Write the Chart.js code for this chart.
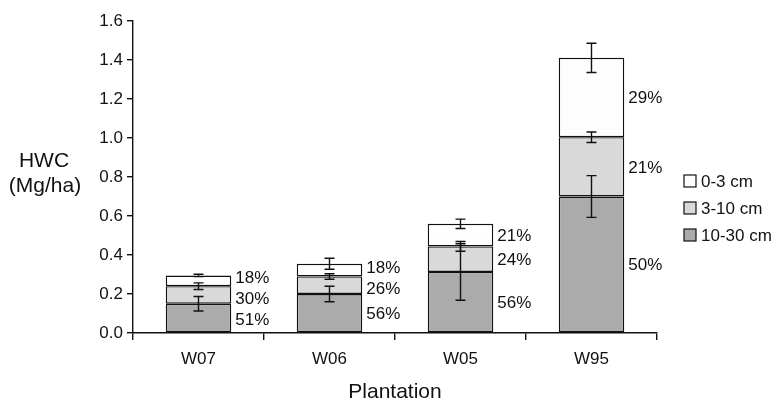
<!DOCTYPE html>
<html>
<head>
<meta charset="utf-8">
<script src="https://cdn.jsdelivr.net/npm/chart.js@4.4.1/dist/chart.umd.min.js"></script>
<style>
  html, body { margin:0; padding:0; background:#fff; }
  canvas { display:block; }
</style>
</head>
<body>
<canvas id="hwc" width="782" height="403"></canvas>
<script>
// data (Mg/ha, stacked bottom -> top)
const categories = ['W07', 'W06', 'W05', 'W95'];
const depthLabels = ['10-30 cm', '3-10 cm', '0-3 cm'];
const deepVals = [0.150, 0.200, 0.313, 0.700];   // 10-30 cm
const midVals  = [0.090, 0.090, 0.131, 0.304];   // 3-10 cm
const topVals  = [0.055, 0.065, 0.116, 0.407];   // 0-3 cm
const deepErr = [0.037, 0.040, 0.145, 0.107];
const midErr  = [0.017, 0.014, 0.025, 0.027];
const topErr  = [0.006, 0.028, 0.024, 0.075];
const deepPct = ['51%', '56%', '56%', '50%'];
const midPct  = ['30%', '26%', '24%', '21%'];
const topPct  = ['18%', '18%', '21%', '29%'];
const yTicks = [0, 0.2, 0.4, 0.6, 0.8, 1.0, 1.2, 1.4, 1.6];

const INK = '#111';
const FONT = "'Liberation Sans', Arial, Helvetica, sans-serif";
Chart.defaults.font.family = FONT;
Chart.defaults.color = INK;

const errs = [deepErr, midErr, topErr];
const pcts = [deepPct, midPct, topPct];

// error bars, percent labels, legend and horizontal y title
const overlay = {
  id: 'overlay',
  afterDatasetsDraw(chart) {
    const ctx = chart.ctx;
    const y = chart.scales.y;
    const n = chart.data.datasets.length;
    ctx.save();
    ctx.strokeStyle = INK;
    ctx.lineWidth = 1.4;
    // error bars at the top of each segment
    for (let di = 0; di < n; di++) {
      const meta = chart.getDatasetMeta(di);
      meta.data.forEach((bar, i) => {
        let cum = 0;
        for (let k = 0; k <= di; k++) cum += chart.data.datasets[k].data[i];
        const e = errs[di][i];
        const yHi = y.getPixelForValue(cum + e);
        const yLo = y.getPixelForValue(cum - e);
        const x = bar.x, cap = 5;
        ctx.beginPath();
        ctx.moveTo(x, yHi); ctx.lineTo(x, yLo);
        ctx.moveTo(x - cap, yHi); ctx.lineTo(x + cap, yHi);
        ctx.moveTo(x - cap, yLo); ctx.lineTo(x + cap, yLo);
        ctx.stroke();
      });
    }
    // percentage labels to the right of each bar
    ctx.fillStyle = INK;
    ctx.font = '17px ' + FONT;
    ctx.textAlign = 'left';
    ctx.textBaseline = 'middle';
    categories.forEach((c, i) => {
      const items = [];
      for (let di = n - 1; di >= 0; di--) {
        const bar = chart.getDatasetMeta(di).data[i];
        items.push({ y: (bar.y + bar.base) / 2, text: pcts[di][i], x: bar.x + bar.width / 2 + 4 });
      }
      // spread labels that would overlap
      const gap = 21;
      for (let it = 0; it < 30; it++) {
        for (let k = 0; k < items.length - 1; k++) {
          const d = items[k + 1].y - items[k].y;
          if (d < gap) { const s = (gap - d) / 2; items[k].y -= s; items[k + 1].y += s; }
        }
      }
      items.forEach(l => ctx.fillText(l.text, l.x, l.y + 1));
    });
    // legend, top layer first
    const lx = chart.chartArea.right + 27;
    const rows = [181, 208, 235];
    ctx.font = '17px ' + FONT;
    for (let r = 0; r < n; r++) {
      const ds = chart.data.datasets[n - 1 - r];
      ctx.fillStyle = ds.backgroundColor;
      ctx.fillRect(lx, rows[r] - 6, 12, 12);
      ctx.lineWidth = 1.2;
      ctx.strokeRect(lx, rows[r] - 6, 12, 12);
      ctx.fillStyle = INK;
      ctx.fillText(ds.label, lx + 17, rows[r] + 1);
    }
    // y axis title, horizontal on two lines
    ctx.font = '21px ' + FONT;
    ctx.textAlign = 'center';
    ctx.fillText('HWC', 44, 161);
    ctx.fillText('(Mg/ha)', 45, 186);
    ctx.restore();
  }
};

new Chart(document.getElementById('hwc'), {
  type: 'bar',
  data: {
    labels: categories,
    datasets: [
      { label: depthLabels[0], data: deepVals, backgroundColor: '#ababab' },
      { label: depthLabels[1], data: midVals,  backgroundColor: '#d9d9d9' },
      { label: depthLabels[2], data: topVals,  backgroundColor: '#fdfdfd' }
    ].map(d => Object.assign(d, {
      borderColor: INK, borderWidth: 1.4, borderSkipped: false,
      categoryPercentage: 1.0, barPercentage: 0.5
    }))
  },
  options: {
    responsive: false,
    animation: false,
    devicePixelRatio: 1,
    layout: { padding: { left: 0, right: 125, top: 21, bottom: 0 } },
    plugins: { legend: { display: false }, tooltip: { enabled: false } },
    scales: {
      x: {
        stacked: true,
        grid: { offset: true, drawOnChartArea: false, tickLength: 7, color: INK, lineWidth: 1.4 },
        border: { color: INK, width: 1.4 },
        ticks: { color: INK, font: { size: 17 }, padding: 9 },
        title: { display: true, text: 'Plantation', color: INK, font: { size: 21, lineHeight: 1 }, padding: 0 },
        afterFit(s) { s.height = 70; }
      },
      y: {
        stacked: true,
        min: 0, max: 1.6,
        afterBuildTicks(s) { s.ticks = yTicks.map(v => ({ value: v })); },
        ticks: { color: INK, font: { size: 17 }, padding: 4, callback: v => Number(v).toFixed(1) },
        grid: { drawOnChartArea: false, tickLength: 6, color: INK, lineWidth: 1.4 },
        border: { color: INK, width: 1.4 },
        afterFit(s) { s.width = 133; }
      }
    }
  },
  plugins: [overlay]
});
</script>
</body>
</html>
